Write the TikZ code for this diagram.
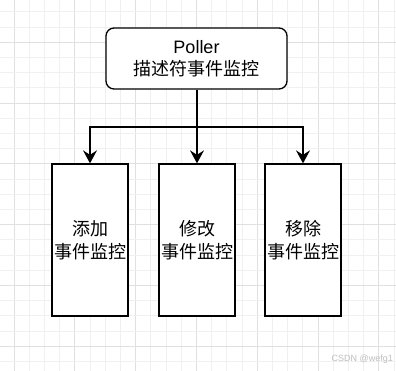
\documentclass[tikz,border=0pt]{standalone}
\usepackage{fontspec}
\setmainfont{Liberation Sans}
\newfontfamily\cjk{Noto Sans CJK SC}
\usetikzlibrary{arrows.meta}
\definecolor{gridminor}{gray}{0.94}
\definecolor{gridmajor}{gray}{0.88}
\tikzset{
  topbox/.style={draw=black, line width=1.3pt, rounded corners=8pt, fill=white,
    minimum width=181pt, minimum height=61pt, inner sep=0pt, align=center,
    font=\fontsize{18}{22}\selectfont},
  leafbox/.style={draw=black, line width=1.3pt, fill=white,
    minimum width=76pt, minimum height=152pt, inner sep=0pt, align=center,
    font=\fontsize{18}{23}\selectfont\cjk},
  conn/.style={line width=1.3pt, draw=black},
  arr/.style={conn, -{Stealth[length=13pt, width=14pt, inset=4.5pt]}},
}
\begin{document}
\begin{tikzpicture}[x=1pt, y=-1pt]
\useasboundingbox (0,0) rectangle (396,371);
\fill[white] (0,0) rectangle (396,371);
% grid
\foreach \k in {-1,...,25}{
  \pgfmathsetmacro{\xx}{14+15.2*\k}
  \pgfmathtruncatemacro{\m}{mod(\k+40,4)}
  \ifnum\m=0
    \draw[gridmajor, line width=0.8pt] (\xx,0) -- (\xx,371);
  \else
    \draw[gridminor, line width=0.8pt] (\xx,0) -- (\xx,371);
  \fi
}
\foreach \k in {-6,...,17}{
  \pgfmathsetmacro{\yy}{103+15.2*\k}
  \pgfmathtruncatemacro{\m}{mod(\k+40,4)}
  \ifnum\m=0
    \draw[gridmajor, line width=0.8pt] (0,\yy) -- (396,\yy);
  \else
    \draw[gridminor, line width=0.8pt] (0,\yy) -- (396,\yy);
  \fi
}
% nodes
\node[topbox] (top) at (196.5,58.5) {Poller\\{\cjk 描述符事件监控}};
\node[leafbox] (add) at (90,240) {添加\\事件监控};
\node[leafbox] (mod) at (197,240) {修改\\事件监控};
\node[leafbox] (del) at (303,240) {移除\\事件监控};
\coordinate (j) at (197,127);
% connectors
\draw[arr] (top.south -| mod.north) -- (mod.north);
\draw[arr] (j) -| (add.north);
\draw[arr] (j) -| (del.north);
% watermark
\node[anchor=east, text=black!25, font=\fontsize{9}{10}\selectfont, inner sep=0pt] (wm) at (393,359) {CSDN @wefg1};
\end{tikzpicture}
\end{document}
